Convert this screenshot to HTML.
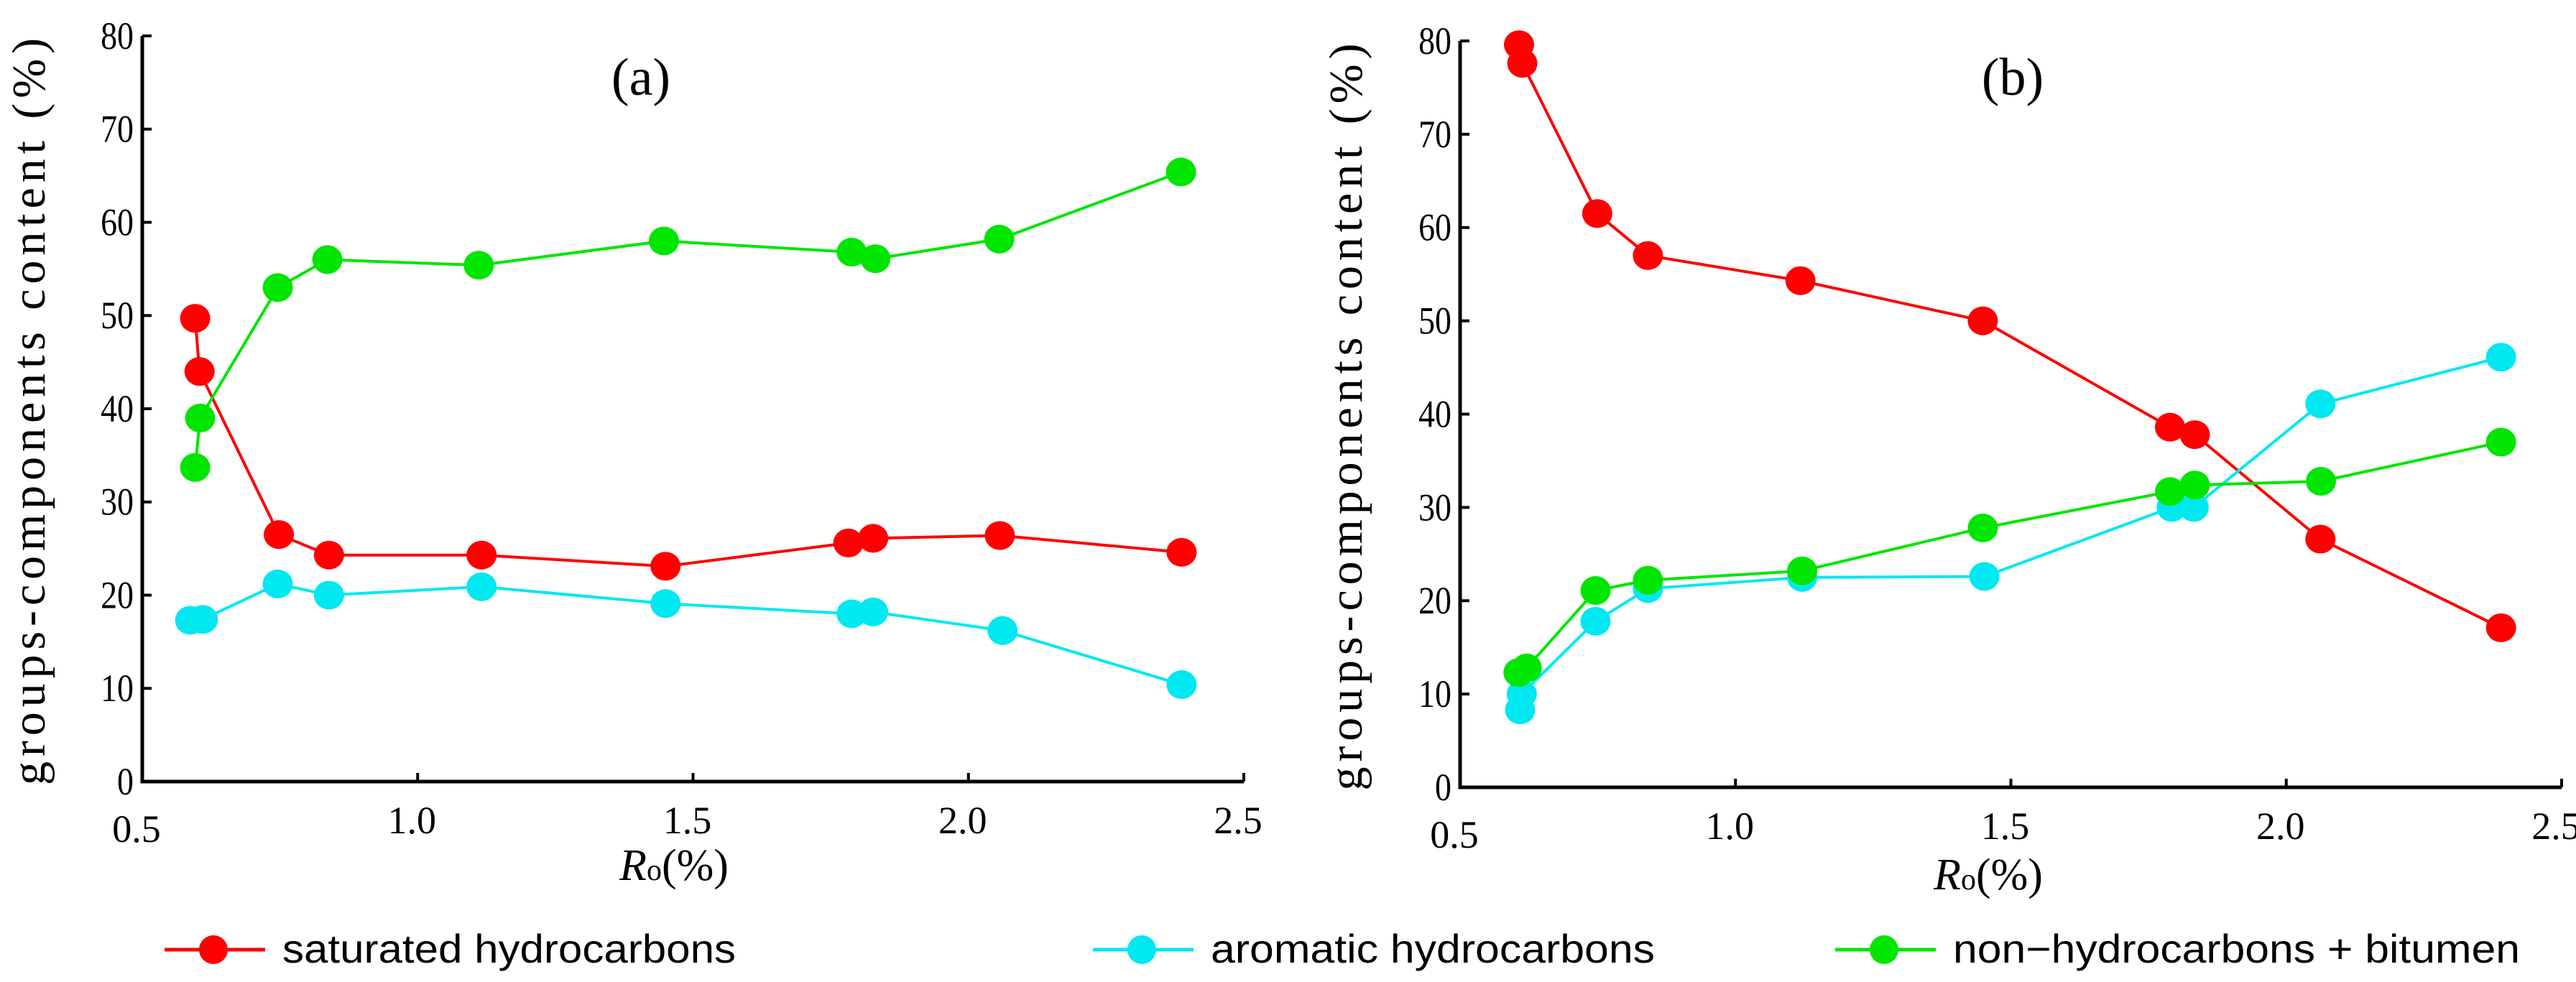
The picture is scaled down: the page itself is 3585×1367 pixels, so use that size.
<!DOCTYPE html>
<html><head><meta charset="utf-8"><style>
html,body{margin:0;padding:0;background:#fff;}
svg{display:block;}
text{font-family:"Liberation Serif","DejaVu Serif",serif;fill:#000;}
text.sans{font-family:"Liberation Sans","DejaVu Sans",sans-serif;}
</style></head><body>
<svg id="chart" width="3585" height="1367" viewBox="0 0 3585 1367" xmlns="http://www.w3.org/2000/svg" font-family="Liberation Serif, DejaVu Serif, serif">
<g id="panelA"></g>
<g id="panelB"></g>
<g id="legend"></g>
</svg>
<script>
const xTicks = [0.5, 1.0, 1.5, 2.0, 2.5];
const xTickLabels = ["0.5", "1.0", "1.5", "2.0", "2.5"];
const yTicks = [0, 10, 20, 30, 40, 50, 60, 70, 80];
const seriesNames = ["saturated hydrocarbons", "aromatic hydrocarbons", "non\u2212hydrocarbons + bitumen"];
const seriesColors = ["#ff0000", "#00e8f0", "#00e600"];

const aSatX = [0.596, 0.604, 0.748, 0.839, 1.116, 1.450, 1.782, 1.827, 2.057, 2.387];
const aSatY = [49.7, 44.0, 26.5, 24.3, 24.3, 23.1, 25.6, 26.1, 26.4, 24.6];
const aAroX = [0.587, 0.610, 0.746, 0.839, 1.116, 1.450, 1.788, 1.827, 2.062, 2.387];
const aAroY = [17.3, 17.4, 21.2, 20.0, 20.9, 19.1, 18.0, 18.2, 16.2, 10.4];
const aNonX = [0.596, 0.605, 0.746, 0.836, 1.111, 1.447, 1.788, 1.831, 2.056, 2.386];
const aNonY = [33.7, 39.0, 53.0, 56.0, 55.4, 58.0, 56.8, 56.1, 58.2, 65.4];

const bSatX = [0.607, 0.613, 0.749, 0.841, 1.118, 1.449, 1.789, 1.834, 2.062, 2.390];
const bSatY = [79.6, 77.6, 61.5, 57.0, 54.3, 50.0, 38.6, 37.8, 26.6, 17.1];
const bAroX = [0.609, 0.612, 0.746, 0.841, 1.121, 1.452, 1.792, 1.832, 2.062, 2.390];
const bAroY = [8.3, 10.0, 17.8, 21.3, 22.5, 22.6, 30.0, 30.0, 41.1, 46.1];
const bNonX = [0.606, 0.621, 0.746, 0.841, 1.121, 1.449, 1.789, 1.834, 2.063, 2.390];
const bNonY = [12.3, 12.8, 21.1, 22.2, 23.2, 27.8, 31.7, 32.4, 32.8, 37.0];

const NS = "http://www.w3.org/2000/svg";
const SERIF = "Liberation Serif, DejaVu Serif, serif";
function mk(tag, attrs, parent){
  const e = document.createElementNS(NS, tag);
  for (const k in attrs) e.setAttribute(k, attrs[k]);
  parent.appendChild(e);
  return e;
}

function drawPanel(g, box, label, series, key){
  const sx = v => box.x0 + (v - 0.5) / 2.0 * (box.x1 - box.x0);
  const sy = v => box.y0 - v / 80 * (box.y0 - box.y1);
  const ax = mk("path", {d:`M${box.x0},${box.y1} L${box.x0},${box.y0} L${box.x1},${box.y0}`, fill:"none", stroke:"#000", "stroke-width":5}, g);
  
  
  yTicks.forEach(t => {
    const y = sy(t);
    const tk = mk("line", {x1:box.x0, x2:box.x0+13, y1:y, y2:y, stroke:"#000", "stroke-width":4}, g);
    
    
    const tl = mk("text", {x:box.x0-12, y:y+18, "text-anchor":"end", "font-size":54, "font-family":SERIF, transform:`translate(${box.x0-12},0) scale(0.85,1) translate(${-(box.x0-12)},0)`}, g);
    tl.textContent = String(t);
    
    
  });
  xTicks.forEach((t, i) => {
    const x = sx(t);
    if (i > 0) {
      const tk = mk("line", {x1:x, x2:x, y1:box.y0, y2:box.y0-12, stroke:"#000", "stroke-width":4}, g);
      
      
    }
    const tl = mk("text", {x:x-8, y:box.y0 + (i===0?84:72), "text-anchor":"middle", "font-size":54, "font-family":SERIF}, g);
    tl.textContent = xTickLabels[i];
    
    
  });
  const yt = mk("text", {transform:`translate(${box.tx},${(box.y0+box.y1)/2+4}) rotate(-90)`, "text-anchor":"middle", "font-size":66, "font-family":SERIF, textLength:1040, lengthAdjust:"spacing"}, g);
  yt.textContent = "groups-components  content  (%)";
  
  
  const xt = mk("text", {x:box.xlx, y:box.xly, "text-anchor":"middle", "font-size":62, "font-family":SERIF}, g);
  xt.innerHTML = '<tspan font-style="italic">R</tspan><tspan font-size="42">o</tspan>(%)';
  
  
  const pl = mk("text", {x:box.lx, y:132, "text-anchor":"middle", "font-size":74, "font-family":SERIF}, g);
  pl.textContent = label;
  
  
  series.forEach((s, si) => {
    const pts = s.x.map((v, i) => `${sx(v).toFixed(1)},${sy(s.y[i]).toFixed(1)}`).join(" ");
    const ln = mk("polyline", {points:pts, fill:"none", stroke:seriesColors[si], "stroke-width":4}, g);
    
    
  });
  series.forEach((s, si) => {
    s.x.forEach((v, i) => {
      const c = mk("ellipse", {cx:sx(v), cy:sy(s.y[i]), rx:21, ry:20, fill:seriesColors[si]}, g);
      
      
    });
  });
}

drawPanel(document.getElementById("panelA"),
  {x0:198, x1:1731, y0:1088, y1:50, tx:62, xlx:938, xly:1225, lx:892},
  "(a)",
  [{x:aSatX,y:aSatY},{x:aAroX,y:aAroY},{x:aNonX,y:aNonY}], "a");
drawPanel(document.getElementById("panelB"),
  {x0:2032, x1:3565, y0:1096, y1:57, tx:1895, xlx:2767, xly:1238, lx:2801},
  "(b)",
  [{x:bSatX,y:bSatY},{x:bAroX,y:bAroY},{x:bNonX,y:bNonY}], "b");

const legendX = [297, 1589, 2622];
const legendW = [631, 618, 789];
const lg = document.getElementById("legend");
seriesNames.forEach((n, i) => {
  const l = mk("line", {x1:legendX[i]-68, x2:legendX[i]+72, y1:1322, y2:1322, stroke:seriesColors[i], "stroke-width":5}, lg);
  
  
  const c = mk("ellipse", {cx:legendX[i], cy:1322, rx:20, ry:20, fill:seriesColors[i]}, lg);
  
  
  const t = mk("text", {x:legendX[i]+96, y:1340, "font-size":56, "class":"sans", textLength:legendW[i], lengthAdjust:"spacingAndGlyphs"}, lg);
  t.textContent = n;
  
  
});
</script>
</body></html>
